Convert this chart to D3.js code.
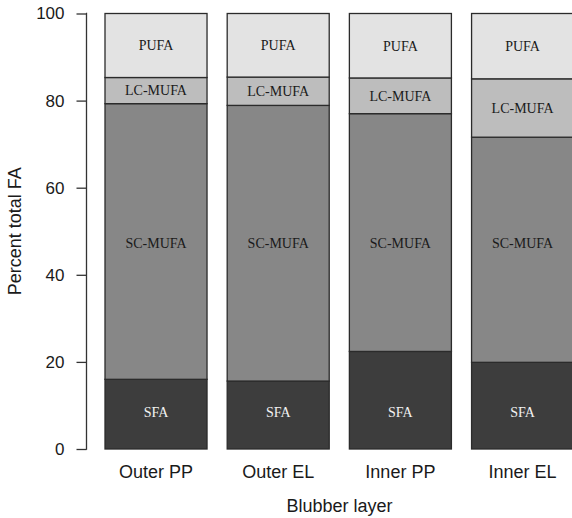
<!DOCTYPE html>
<html>
<head>
<meta charset="UTF-8">
<script src="https://cdn.jsdelivr.net/npm/d3@7"></script>
<style>
  body { margin: 0; background: #fff; }
  svg { display: block; }
</style>
</head>
<body>
<div id="chart"></div>
<script>
// categories along x
const layers = ["Outer PP", "Outer EL", "Inner PP", "Inner EL"]
// fatty acid classes, bottom to top
const classes = ["SFA", "SC-MUFA", "LC-MUFA", "PUFA"]
// percent of total FA, one value per blubber layer
const sfa = [16.0, 15.6, 22.4, 19.9]
const scMufa = [63.3, 63.3, 54.6, 51.7]
const lcMufa = [6.0, 6.5, 8.2, 13.4]
const pufa = [14.7, 14.6, 14.8, 15.0]
const yTicks = [0, 20, 40, 60, 80, 100]

const width = 572
const height = 518

const fills = { "SFA": "#3d3d3d", "SC-MUFA": "#878787", "LC-MUFA": "#bdbdbd", "PUFA": "#e3e3e3" }
const textFill = { "SFA": "#f2f2f2", "SC-MUFA": "#1a1a1a", "LC-MUFA": "#1a1a1a", "PUFA": "#1a1a1a" }
// label heights in data units (null = middle of the segment)
const labelAt = { "SFA": 8.4, "SC-MUFA": 47.2, "LC-MUFA": null, "PUFA": null }

const rows = layers.map((name, i) => ({
    layer: name,
    "SFA": sfa[i],
    "SC-MUFA": scMufa[i],
    "LC-MUFA": lcMufa[i],
    "PUFA": pufa[i]
}))

const stacked = d3.stack().keys(classes)(rows)

const svg = d3.select("#chart")
    .append("svg")
    .attr("width", width)
    .attr("height", height)

const x = d3.scaleBand()
    .domain(layers)
    .range([105, 573.6])
    .paddingInner(0.165)
    .paddingOuter(0)

const y = d3.scaleLinear()
    .domain([0, 100])
    .range([449, 13.5])

const groups = svg.selectAll("g.layer")
    .data(stacked)
    .enter()
    .append("g")
    .attr("class", "layer")

groups.selectAll("rect")
    .data(s => s.map(d => ({ key: s.key, d: d })))
    .enter()
    .append("rect")
    .attr("x", e => x(e.d.data.layer))
    .attr("width", x.bandwidth())
    .attr("y", e => y(e.d[1]))
    .attr("height", e => y(e.d[0]) - y(e.d[1]))
    .attr("fill", e => fills[e.key])
    .attr("stroke", "#2b2b2b")
    .attr("stroke-width", 1.3)

groups.selectAll("text")
    .data(s => s.map(d => ({ key: s.key, d: d })))
    .enter()
    .append("text")
    .attr("x", e => x(e.d.data.layer) + x.bandwidth() / 2)
    .attr("y", e => {
        const v = labelAt[e.key] === null ? (e.d[0] + e.d[1]) / 2 : labelAt[e.key]
        return y(v)
    })
    .attr("dy", "0.35em")
    .attr("text-anchor", "middle")
    .attr("font-family", "'Liberation Serif', 'DejaVu Serif', serif")
    .attr("font-size", "14px")
    .attr("fill", e => textFill[e.key])
    .text(e => e.key)

// y axis
const yAxis = svg.append("g")
    .attr("transform", "translate(86.5,0)")
    .call(d3.axisLeft(y).tickValues(yTicks).tickSize(10).tickPadding(12))

yAxis.select(".domain")
    .attr("d", `M-0.5,${y(0)}H0V${y(100)}H-0.5`)
    .attr("stroke", "#333")
    .attr("stroke-width", 1.3)
yAxis.selectAll(".tick line").attr("stroke", "#333").attr("stroke-width", 1.3)
yAxis.selectAll(".tick text")
    .attr("font-family", "'Liberation Sans', Arial, sans-serif")
    .attr("font-size", "17px")
    .attr("fill", "#1a1a1a")

// x category labels
svg.selectAll("text.xlab")
    .data(layers)
    .enter()
    .append("text")
    .attr("class", "xlab")
    .attr("x", d => x(d) + x.bandwidth() / 2)
    .attr("y", 478)
    .attr("text-anchor", "middle")
    .attr("font-family", "'Liberation Sans', Arial, sans-serif")
    .attr("font-size", "18px")
    .attr("fill", "#1a1a1a")
    .text(d => d)

// axis titles
svg.append("text")
    .attr("x", 339.5)
    .attr("y", 512)
    .attr("text-anchor", "middle")
    .attr("font-family", "'Liberation Sans', Arial, sans-serif")
    .attr("font-size", "18px")
    .attr("fill", "#1a1a1a")
    .text("Blubber layer")

svg.append("text")
    .attr("transform", "translate(21," + (y(0) + y(100)) / 2 + ") rotate(-90)")
    .attr("text-anchor", "middle")
    .attr("font-family", "'Liberation Sans', Arial, sans-serif")
    .attr("font-size", "18px")
    .attr("fill", "#1a1a1a")
    .text("Percent total FA")
</script>
</body>
</html>
